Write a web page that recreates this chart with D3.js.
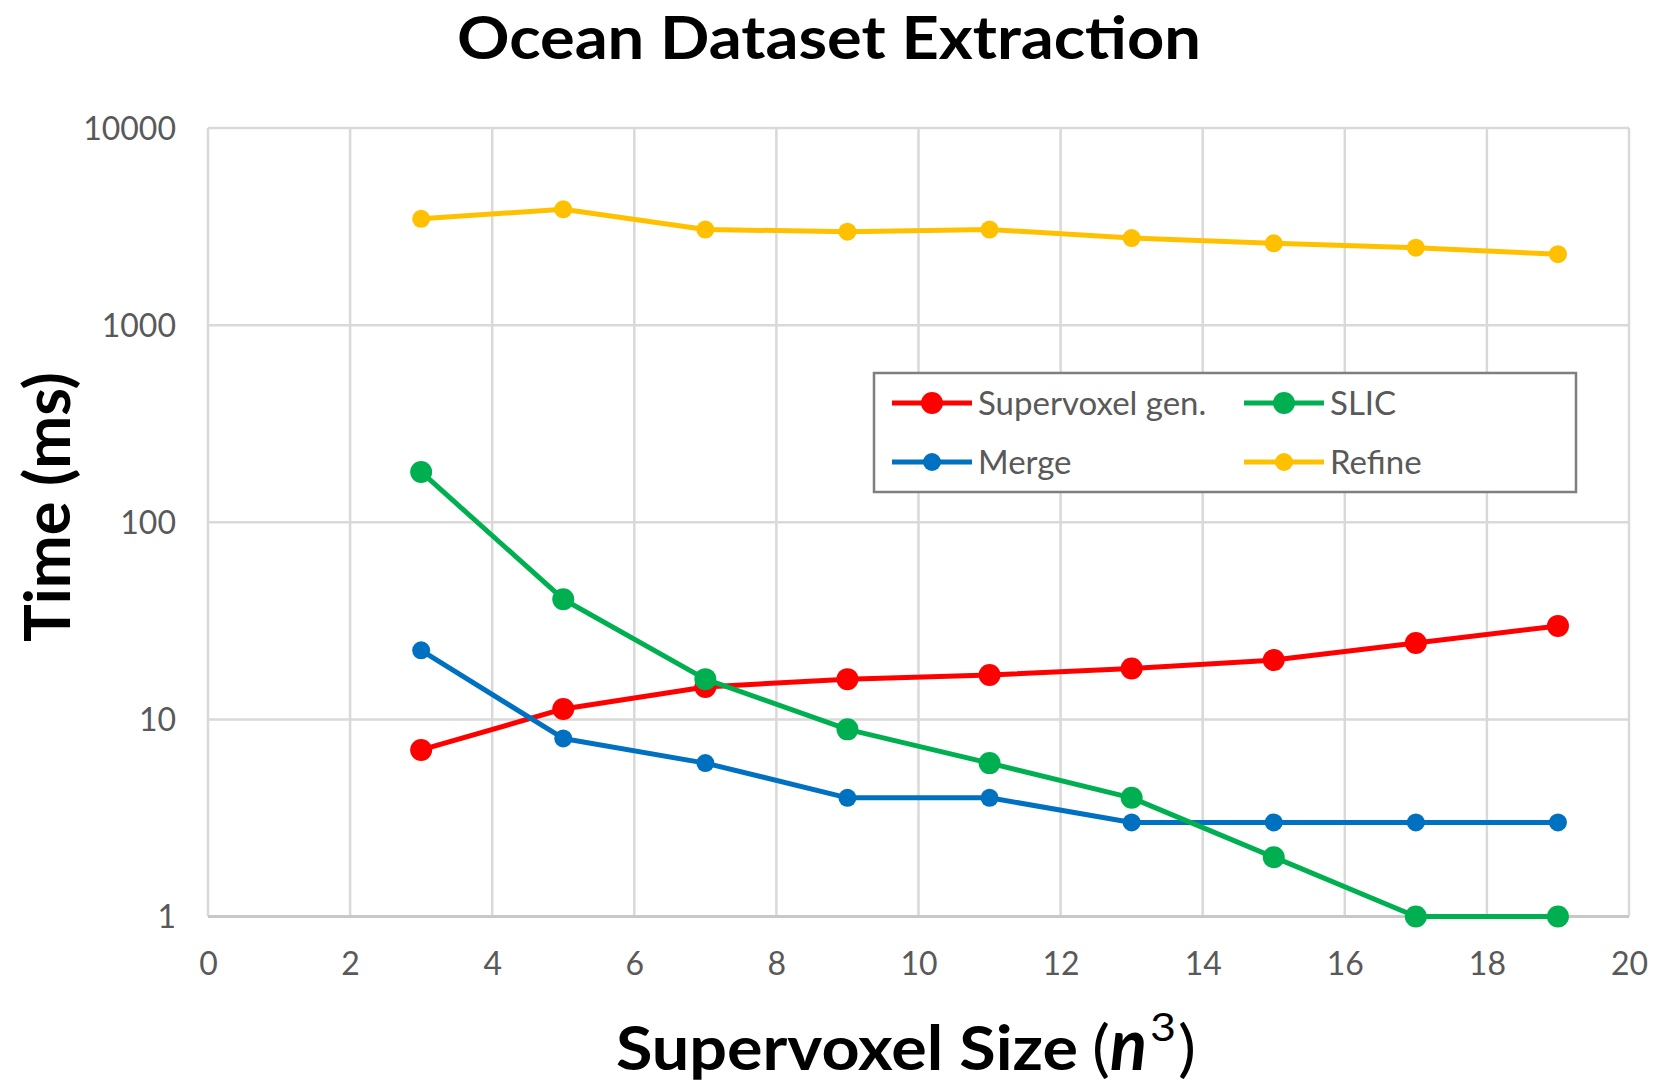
<!DOCTYPE html>
<html>
<head>
<meta charset="utf-8">
<script src="https://cdn.jsdelivr.net/npm/d3@7"></script>
<style>
  html, body { margin: 0; padding: 0; background: #fff; }
  svg { display: block; }
  text { font-family: Lato, "Open Sans", sans-serif; }
</style>
</head>
<body>
<svg id="chart" width="1675" height="1084"></svg>
<script>
const xValues = [3, 5, 7, 9, 11, 13, 15, 17, 19];
const supervoxelGen = [7.0, 11.3, 14.6, 16.0, 16.8, 18.1, 20.0, 24.4, 29.8];
const merge = [22.4, 8.0, 6.0, 4.0, 4.0, 3.0, 3.0, 3.0, 3.0];
const slic = [180, 40.7, 16.0, 8.9, 6.0, 4.0, 2.0, 1.0, 1.0];
const refine = [3460, 3870, 3055, 2980, 3055, 2765, 2600, 2470, 2290];
const seriesNames = ["Supervoxel gen.", "Merge", "SLIC", "Refine"];
const seriesColors = ["#FF0000", "#0070C0", "#00B050", "#FFC000"];
const markerRadius = [11, 9, 11, 9];
const xTicks = [0, 2, 4, 6, 8, 10, 12, 14, 16, 18, 20];
const yTicks = [1, 10, 100, 1000, 10000];
const titleText = "Ocean Dataset Extraction";
const yTitleText = "Time (ms)";

const seriesData = [supervoxelGen, merge, slic, refine];

(function () {
const svg = d3.select("#chart");
const pLeft = 208, pRight = 1629, pTop = 128, pBottom = 916.5;

const x = d3.scaleLinear().domain([0, 20]).range([pLeft, pRight]);
const y = d3.scaleLog().domain([1, 10000]).range([pBottom, pTop]);

// gridlines
const grid = svg.append("g");
grid.selectAll("line.v").data(xTicks).join("line")
  .attr("x1", d => x(d)).attr("x2", d => x(d))
  .attr("y1", pTop).attr("y2", pBottom)
  .attr("stroke", "#d9d9d9").attr("stroke-width", 2.5);
grid.selectAll("line.h").data(yTicks).join("line")
  .attr("x1", pLeft).attr("x2", pRight)
  .attr("y1", d => y(d)).attr("y2", d => y(d))
  .attr("stroke", d => d === 1 ? "#c8c8c8" : "#d9d9d9").attr("stroke-width", d => d === 1 ? 3 : 2.5);

// axes via d3 axis (labels only)
const xAxis = d3.axisBottom(x).tickValues(xTicks).tickSize(0).tickPadding(0).tickFormat(d3.format("d"));
const gx = svg.append("g").attr("transform", `translate(0,${pBottom})`).call(xAxis);
gx.select(".domain").remove();
gx.selectAll("text").attr("font-family", "Lato, sans-serif").attr("font-size", 32)
  .attr("fill", "#595959").attr("dy", null).attr("y", 58);

const yAxis = d3.axisLeft(y).tickValues(yTicks).tickSize(0).tickPadding(0).tickFormat(d3.format("d"));
const gy = svg.append("g").attr("transform", `translate(176,0)`).call(yAxis);
gy.select(".domain").remove();
gy.selectAll("text").attr("font-family", "Lato, sans-serif").attr("font-size", 32)
  .attr("fill", "#595959").attr("x", 0).attr("dy", "0.35em");

// series
const line = d3.line().x((d, i) => x(xValues[i])).y(d => y(d));
seriesData.forEach((vals, si) => {
  const g = svg.append("g");
  g.append("path").datum(vals).attr("d", line)
    .attr("fill", "none").attr("stroke", seriesColors[si]).attr("stroke-width", 5)
    .attr("stroke-linejoin", "round");
  g.selectAll("circle").data(vals).join("circle")
    .attr("cx", (d, i) => x(xValues[i])).attr("cy", d => y(d))
    .attr("r", markerRadius[si]).attr("fill", seriesColors[si]);
});

// legend
const lg = svg.append("g");
lg.append("rect").attr("x", 874).attr("y", 373).attr("width", 702).attr("height", 119)
  .attr("fill", "#fff").attr("stroke", "#7f7f7f").attr("stroke-width", 2.5);
const legendPos = [
  {lx: 892, ty: 403}, {lx: 892, ty: 462}, {lx: 1244, ty: 403}, {lx: 1244, ty: 462}
];
seriesNames.forEach((name, si) => {
  const p = legendPos[si];
  lg.append("line").attr("x1", p.lx).attr("x2", p.lx + 80).attr("y1", p.ty).attr("y2", p.ty)
    .attr("stroke", seriesColors[si]).attr("stroke-width", 5);
  lg.append("circle").attr("cx", p.lx + 40).attr("cy", p.ty).attr("r", markerRadius[si])
    .attr("fill", seriesColors[si]);
  lg.append("text").attr("x", p.lx + 86).attr("y", p.ty).attr("dy", "0.35em")
    .attr("font-size", 33).attr("fill", "#595959").text(name);
});

// title
svg.append("text").attr("x", 829).attr("y", 59).attr("text-anchor", "middle")
  .attr("font-size", 60).attr("font-weight", "bold").attr("fill", "#000")
  .attr("textLength", 744).attr("lengthAdjust", "spacingAndGlyphs").text(titleText);

// y title
svg.append("text").attr("transform", "translate(70,507) rotate(-90)")
  .attr("text-anchor", "middle").attr("font-size", 64).attr("font-weight", "bold")
  .attr("textLength", 270).attr("lengthAdjust", "spacingAndGlyphs").text(yTitleText);

// x title
svg.append("text").attr("x", 616).attr("y", 1070)
  .attr("font-size", 61).attr("font-weight", "bold")
  .attr("textLength", 462).attr("lengthAdjust", "spacingAndGlyphs").text("Supervoxel Size");
svg.append("text").attr("x", 1092).attr("y", 1070)
  .attr("font-family", "'Liberation Serif', serif").attr("font-size", 62)
  .attr("textLength", 18).attr("lengthAdjust", "spacingAndGlyphs").text("(");
svg.append("text").attr("x", 1110).attr("y", 1070)
  .attr("font-family", "'DejaVu Serif', serif").attr("font-style", "italic").attr("font-weight", "bold")
  .attr("font-size", 72).attr("textLength", 37).attr("lengthAdjust", "spacingAndGlyphs").text("n");
svg.append("text").attr("x", 1150).attr("y", 1041)
  .attr("font-family", "'DejaVu Serif', serif").attr("font-size", 38)
  .attr("textLength", 26).attr("lengthAdjust", "spacingAndGlyphs").text("3");
svg.append("text").attr("x", 1178).attr("y", 1070)
  .attr("font-family", "'Liberation Serif', serif").attr("font-size", 62)
  .attr("textLength", 18).attr("lengthAdjust", "spacingAndGlyphs").text(")");
})();
</script>
</body>
</html>
